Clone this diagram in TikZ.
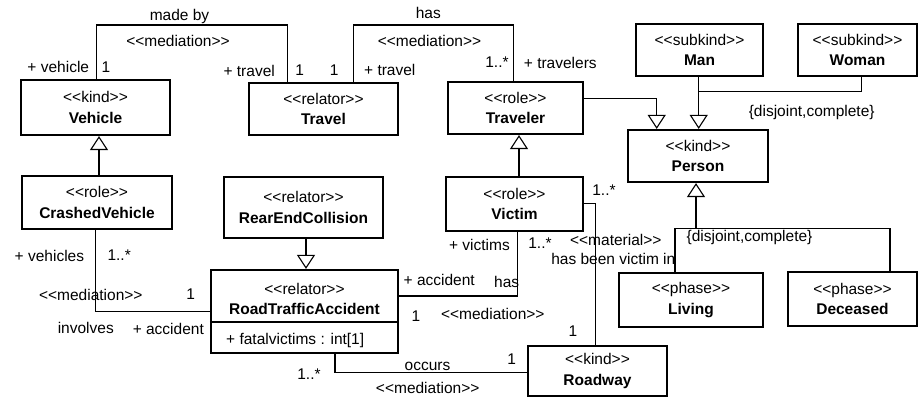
\documentclass[tikz,border=0pt]{standalone}
\usepackage{fontspec}
\setmainfont{Liberation Sans}
\usetikzlibrary{arrows.meta}

\tikzset{
	umlclass/.style={draw, line width=2.2pt, align=center, inner sep=0pt,
		font=\fontsize{15.5}{20.5}\selectfont},
	assoc/.style={line width=1.1pt},
	genlink/.style={line width=1.1pt, -{Triangle[open, length=14pt, width=18pt]}},
	lbl/.style={inner sep=0pt, font=\fontsize{15.5}{18}\selectfont},
}
\newcommand{\stereo}[1]{<\kern0pt<#1>\kern0pt>}

\begin{document}
\begin{tikzpicture}[x=1pt, y=-1pt]
	\useasboundingbox (0,0) rectangle (919,398);

	% classes
	\node[umlclass, minimum width=149pt, minimum height=55pt] (vehicle) at (95.5,107.5) {\stereo{kind}\\\textbf{Vehicle}};
	\node[umlclass, minimum width=149pt, minimum height=52pt] (travel) at (323.5,109) {\stereo{relator}\\\textbf{Travel}};
	\node[umlclass, minimum width=135pt, minimum height=52pt] (traveler) at (515.5,108) {\stereo{role}\\\textbf{Traveler}};
	\node[umlclass, minimum width=127pt, minimum height=52pt] (man) at (699.5,50) {\stereo{subkind}\\\textbf{Man}};
	\node[umlclass, minimum width=119pt, minimum height=52pt] (woman) at (857.5,50) {\stereo{subkind}\\\textbf{Woman}};
	\node[umlclass, minimum width=140pt, minimum height=52pt] (person) at (698,156) {\stereo{kind}\\\textbf{Person}};
	\node[umlclass, minimum width=150pt, minimum height=53pt] (crashed) at (97,202.5) {\stereo{role}\\\textbf{CrashedVehicle}};
	\node[umlclass, minimum width=159pt, minimum height=61pt] (rearend) at (303.5,207.5) {\stereo{relator}\\\textbf{RearEndCollision}};
	\node[umlclass, minimum width=137pt, minimum height=54pt] (victim) at (514.5,204) {\stereo{role}\\\textbf{Victim}};
	\node[umlclass, minimum width=144pt, minimum height=54pt] (living) at (691,300) {\stereo{phase}\\\textbf{Living}};
	\node[umlclass, minimum width=129pt, minimum height=54pt] (deceased) at (852.5,299) {\stereo{phase}\\\textbf{Deceased}};
	\node[umlclass, minimum width=139pt, minimum height=50pt] (roadway) at (597.5,371) {\stereo{kind}\\\textbf{Roadway}};

	% relator with attribute compartment
	\node[draw, line width=2.2pt, minimum width=187pt, minimum height=83pt] (rta) at (304.5,311.5) {};
	\node[lbl] (rtaster) at (304.5,288.5) {\stereo{relator}};
	\node[lbl, font=\fontsize{15.5}{18}\selectfont\bfseries] (rtaname) at (304.5,308.5) {RoadTrafficAccident};
	\draw[assoc] (rta.west |- 0,322) -- (rta.east |- 0,322);
	\node[lbl, anchor=west] (rtaattr) at (226,340) {+ fatalvictims : int[1]};

	% generalizations
	\draw[genlink] (99,0 |- crashed.north) -- (99,0 |- vehicle.south);
	\draw[genlink] (306,0 |- rearend.south) -- (306,0 |- rta.north);
	\draw[genlink] (519,0 |- victim.north) -- (519,0 |- traveler.south);
	\draw[genlink] (traveler.east |- 0,98.3) -| (656.7,0 |- person.north);
	\draw[genlink] (698.7,0 |- man.south) -- (698.7,0 |- person.north);
	\draw[assoc] (861.7,0 |- woman.south) |- (698.7,91.7);
	\draw[genlink] (696,228.3) -- (696,0 |- person.south);
	\draw[assoc] (675,0 |- living.north) |- (890,228.3) -- (890,0 |- deceased.north);
	\node[lbl] (gs1) at (811.7,112.2) {\{disjoint,complete\}};
	\node[lbl] (gs2) at (749.5,237.5) {\{disjoint,complete\}};

	% made by
	\draw[assoc] (96.7,0 |- vehicle.north) |- (287.3,25) -- (287.3,0 |- travel.north);
	\node[lbl] (madeby) at (179.5,16) {made by};
	\node[lbl] (med1) at (178,40.8) {\stereo{mediation}};
	\node[lbl, anchor=east] (r1a) at (89.3,66.5) {+ vehicle};
	\node[lbl] (m1a) at (106,67) {1};
	\node[lbl] (r1b) at (249.2,70.5) {+ travel};
	\node[lbl] (m1b) at (299.7,70) {1};

	% has (travelers)
	\draw[assoc] (353.3,0 |- travel.north) |- (513.3,25) -- (513.3,0 |- traveler.north);
	\node[lbl] (has1) at (428.3,12.5) {has};
	\node[lbl] (med2) at (429.5,40.8) {\stereo{mediation}};
	\node[lbl] (m2a) at (334.2,70.5) {1};
	\node[lbl] (r2a) at (389.8,69.5) {+ travel};
	\node[lbl] (m2b) at (497,62.5) {1..*};
	\node[lbl] (r2b) at (560.3,63) {+ travelers};

	% involves
	\draw[assoc] (95.7,0 |- crashed.south) |- (rta.west |- 0,311.7);
	\node[lbl, anchor=east] (r3a) at (84.3,255.5) {+ vehicles};
	\node[lbl] (m3a) at (119.2,255.5) {1..*};
	\node[lbl] (med3) at (90.8,294.7) {\stereo{mediation}};
	\node[lbl] (m3b) at (190.8,294) {1};
	\node[lbl] (involves) at (85.8,328.3) {involves};
	\node[lbl] (r3b) at (168.3,328.8) {+ accident};

	% has (victims)
	\draw[assoc] (rta.east |- 0,296) -| (517.3,0 |- victim.south);
	\node[lbl] (r4a) at (439.2,280) {+ accident};
	\node[lbl] (has2) at (506.7,281.7) {has};
	\node[lbl] (m4a) at (416,316) {1};
	\node[lbl] (med4) at (492.8,313.8) {\stereo{mediation}};
	\node[lbl] (r4b) at (479.5,245) {+ victims};
	\node[lbl] (m4b) at (540,243.5) {1..*};

	% has been victim in
	\draw[assoc] (victim.east |- 0,203.3) -| (595.7,0 |- roadway.north);
	\node[lbl] (m5a) at (604,190.3) {1..*};
	\node[lbl] (mat5) at (615.8,239.5) {\stereo{material}};
	\node[lbl] (victimin) at (613.3,259) {has been victim in};
	\node[lbl] (m5b) at (573,331) {1};

	% occurs
	\draw[assoc] (335,0 |- rta.south) |- (roadway.west |- 0,372.7);
	\node[lbl] (m6a) at (309,374.3) {1..*};
	\node[lbl] (occurs) at (427.5,366) {occurs};
	\node[lbl] (med6) at (427.7,388) {\stereo{mediation}};
	\node[lbl] (m6b) at (511.7,359) {1};
\end{tikzpicture}
\end{document}
